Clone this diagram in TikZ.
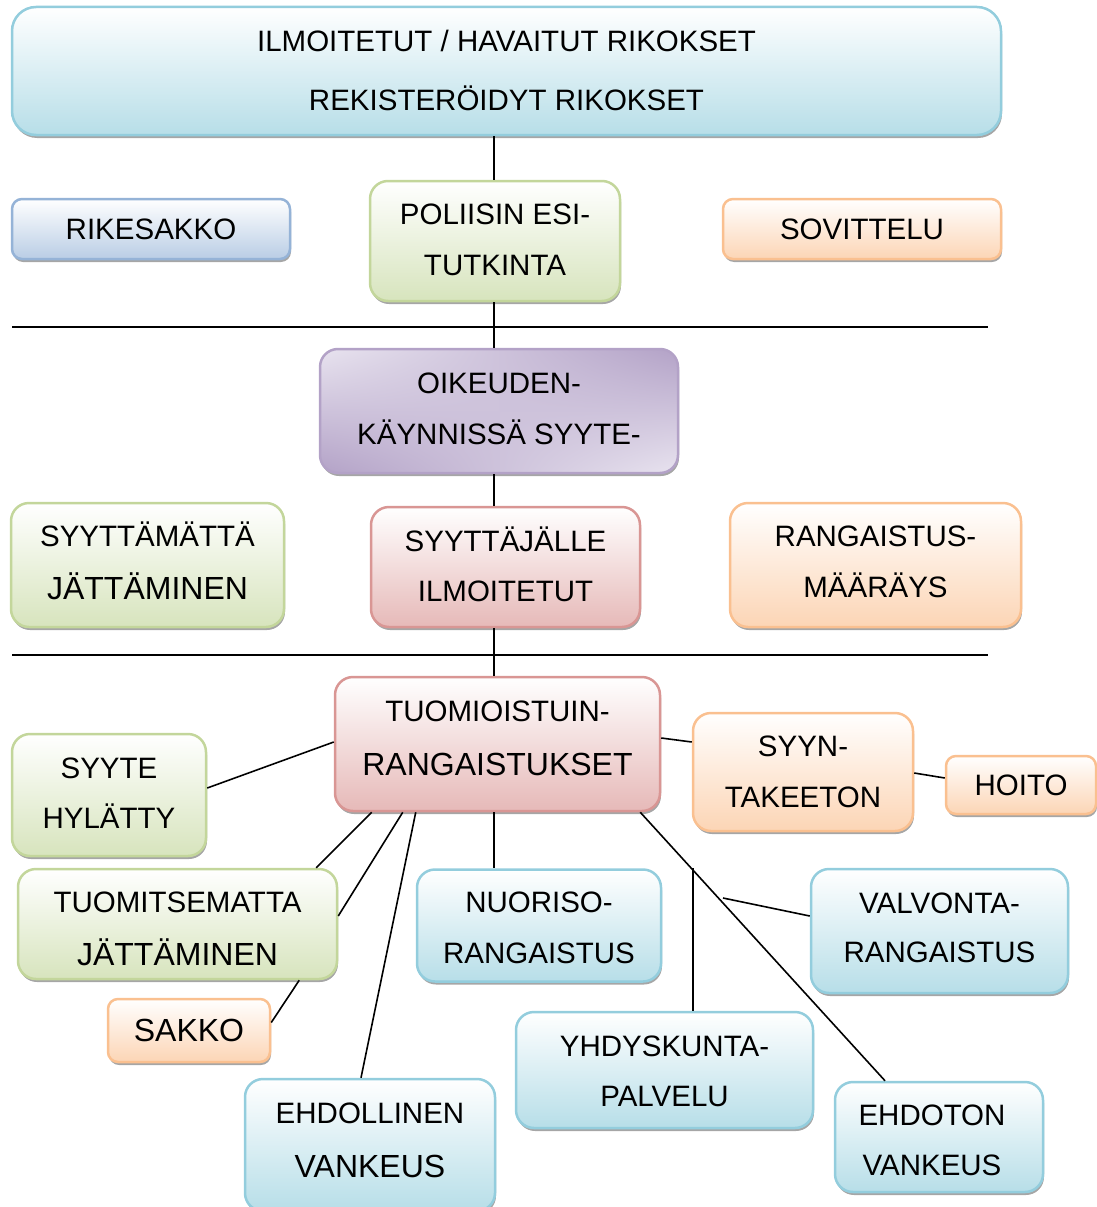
\documentclass[tikz,border=0pt]{standalone}
\usepackage{fontspec}
\setmainfont{Liberation Sans}
\usepackage{xcolor}
\usetikzlibrary{shadows,shadings}

\definecolor{aqualine}{HTML}{93CDDD}
\definecolor{aquafill}{HTML}{B7DEE8}
\definecolor{greenline}{HTML}{C3D69B}
\definecolor{greenfill}{HTML}{D7E4BD}
\definecolor{orangeline}{HTML}{FAC090}
\definecolor{orangefill}{HTML}{FCD5B5}
\definecolor{redline}{HTML}{D99694}
\definecolor{redfill}{HTML}{E6B9B8}
\definecolor{blueline}{HTML}{95B3D7}
\definecolor{bluefill}{HTML}{B9CDE5}
\definecolor{purpleline}{HTML}{B3A2C7}
\definecolor{purplelight}{HTML}{E8E3EF}

\newcommand\boxfont{\fontsize{29.5}{51}\selectfont}
\newcommand\boxfontbig{\fontsize{32}{51}\selectfont}

\begin{document}
\begin{tikzpicture}[x=1pt, y=-1pt,
	box/.style={shape=rectangle, rounded corners=18pt, line width=2.5pt,
		inner sep=0pt, align=center, font=\boxfont,
		drop shadow={shadow xshift=1pt, shadow yshift=-3pt, opacity=.35, fill=black}},
	lastline/.style={text depth=0pt, text height=#1},
	aquabox/.style={box, draw=aqualine, top color=white, bottom color=aquafill},
	greenbox/.style={box, draw=greenline, top color=white, bottom color=greenfill},
	orangebox/.style={box, draw=orangeline, top color=white, bottom color=orangefill},
	redbox/.style={box, draw=redline, top color=white, bottom color=redfill},
	bluebox/.style={box, draw=blueline, top color=white, bottom color=bluefill},
	purplebox/.style={box, draw=purpleline, upper left=purplelight, lower right=purplelight,
		upper right=purpleline, lower left=purpleline},
	link/.style={line width=1.6pt, black}]
	\useasboundingbox (0, 0) rectangle (1097, 1207);

	\node[aquabox, rounded corners=24pt, minimum width=989, minimum height=128, lastline=79.2pt]
		(reported) at (506.5, 71) {ILMOITETUT / HAVAITUT RIKOKSET\\[8pt]REKISTERÖIDYT RIKOKSET};
	\node[bluebox, rounded corners=10pt, minimum width=278, minimum height=60]
		(finefix) at (151, 229) {RIKESAKKO};
	\node[greenbox, minimum width=250, minimum height=120, lastline=69.2pt]
		(police) at (495, 241) {POLIISIN ESI-\\TUTKINTA};
	\node[orangebox, rounded corners=10pt, minimum width=278, minimum height=60]
		(mediation) at (862, 229) {SOVITTELU};

	\node[purplebox, minimum width=358, minimum height=124, lastline=67.2pt]
		(court) at (499, 411) {OIKEUDEN-\\KÄYNNISSÄ SYYTE-};
	\node[greenbox, minimum width=273, minimum height=124, lastline=69pt]
		(waived) at (147.5, 565) {SYYTTÄMÄTTÄ\\[2pt]{\boxfontbig JÄTTÄMINEN}};
	\node[redbox, minimum width=269, minimum height=120, lastline=69.2pt]
		(prosecutor) at (505.5, 567) {SYYTTÄJÄLLE\\[-1pt]ILMOITETUT};
	\node[orangebox, minimum width=291, minimum height=124, lastline=65.2pt]
		(order) at (875.5, 565) {RANGAISTUS-\\MÄÄRÄYS};

	\node[redbox, minimum width=325, minimum height=134, lastline=63pt]
		(sentence) at (497.5, 744) {TUOMIOISTUIN-\\[3pt]{\boxfontbig RANGAISTUKSET}};
	\node[greenbox, minimum width=194, minimum height=122, lastline=67.2pt]
		(dismissed) at (109, 795) {SYYTE\\[-1pt]HYLÄTTY};
	\node[greenbox, minimum width=319, minimum height=110, lastline=83pt]
		(unjudged) at (177.5, 924) {TUOMITSEMATTA\\[2pt]{\boxfontbig JÄTTÄMINEN}};
	\node[orangebox, rounded corners=10pt, minimum width=162, minimum height=63]
		(fine) at (189, 1030.5) {\boxfontbig SAKKO};
	\node[aquabox, minimum width=244, minimum height=112, lastline=76.2pt]
		(youth) at (539, 925.5) {NUORISO-\\RANGAISTUS};
	\node[orangebox, minimum width=220, minimum height=118, lastline=71.2pt]
		(insane) at (803, 772) {SYYN-\\TAKEETON};
	\node[orangebox, rounded corners=10pt, minimum width=150, minimum height=58]
		(care) at (1021, 785) {HOITO};
	\node[aquabox, minimum width=257, minimum height=124, lastline=63.2pt]
		(monitor) at (939.5, 931) {VALVONTA-\\[-2pt]RANGAISTUS};
	\node[aquabox, minimum width=297, minimum height=116, lastline=73.2pt]
		(community) at (664.5, 1070) {YHDYSKUNTA-\\[-1pt]PALVELU};
	\node[aquabox, minimum width=250, minimum height=132, lastline=65pt]
		(probation) at (370, 1145) {EHDOLLINEN\\[3pt]{\boxfontbig VANKEUS}};
	\node[aquabox, minimum width=208, minimum height=110, lastline=77.2pt]
		(prison) at (939, 1137) {\hspace*{-14pt}EHDOTON\\[-1pt]\hspace*{-14pt}VANKEUS};

	\coordinate (spine) at (494, 0);
	\coordinate (communityend) at (693, 868);
	\coordinate (monitorend) at (723, 898);

	\draw[link] (12, 327) -- (988, 327);
	\draw[link] (12, 655) -- (988, 655);

	\draw[link] (spine |- reported.south) -- (spine |- police.north);
	\draw[link] (spine |- police.south) -- (spine |- court.north);
	\draw[link] (spine |- court.south) -- (spine |- prosecutor.north);
	\draw[link] (spine |- prosecutor.south) -- (spine |- sentence.north);
	\draw[link] (spine |- sentence.south) -- (spine |- youth.north);
	\draw[link] ([yshift=7pt]dismissed.east) -- ([yshift=2pt]sentence.west);
	\draw[link] ([xshift=-22pt]unjudged.north east) -- ([xshift=38pt]sentence.south west);
	\draw[link] ([yshift=8pt]unjudged.east) -- ([xshift=69pt]sentence.south west);
	\draw[link] ([yshift=8pt]fine.east) -- ([xshift=-39pt]unjudged.south east);
	\draw[link] ([xshift=-9pt]probation.north) -- ([xshift=82pt]sentence.south west);
	\draw[link] ([yshift=6pt]sentence.east) -- ([yshift=30pt]insane.west);
	\draw[link] ([yshift=-1pt]insane.east) -- ([yshift=7pt]care.west);
	\draw[link] ([xshift=-21pt]sentence.south east) -- ([xshift=-54pt]prison.north);
	\draw[link] (communityend) -- (communityend |- community.north);
	\draw[link] (monitorend) -- ([yshift=15pt]monitor.west);
\end{tikzpicture}
\end{document}
